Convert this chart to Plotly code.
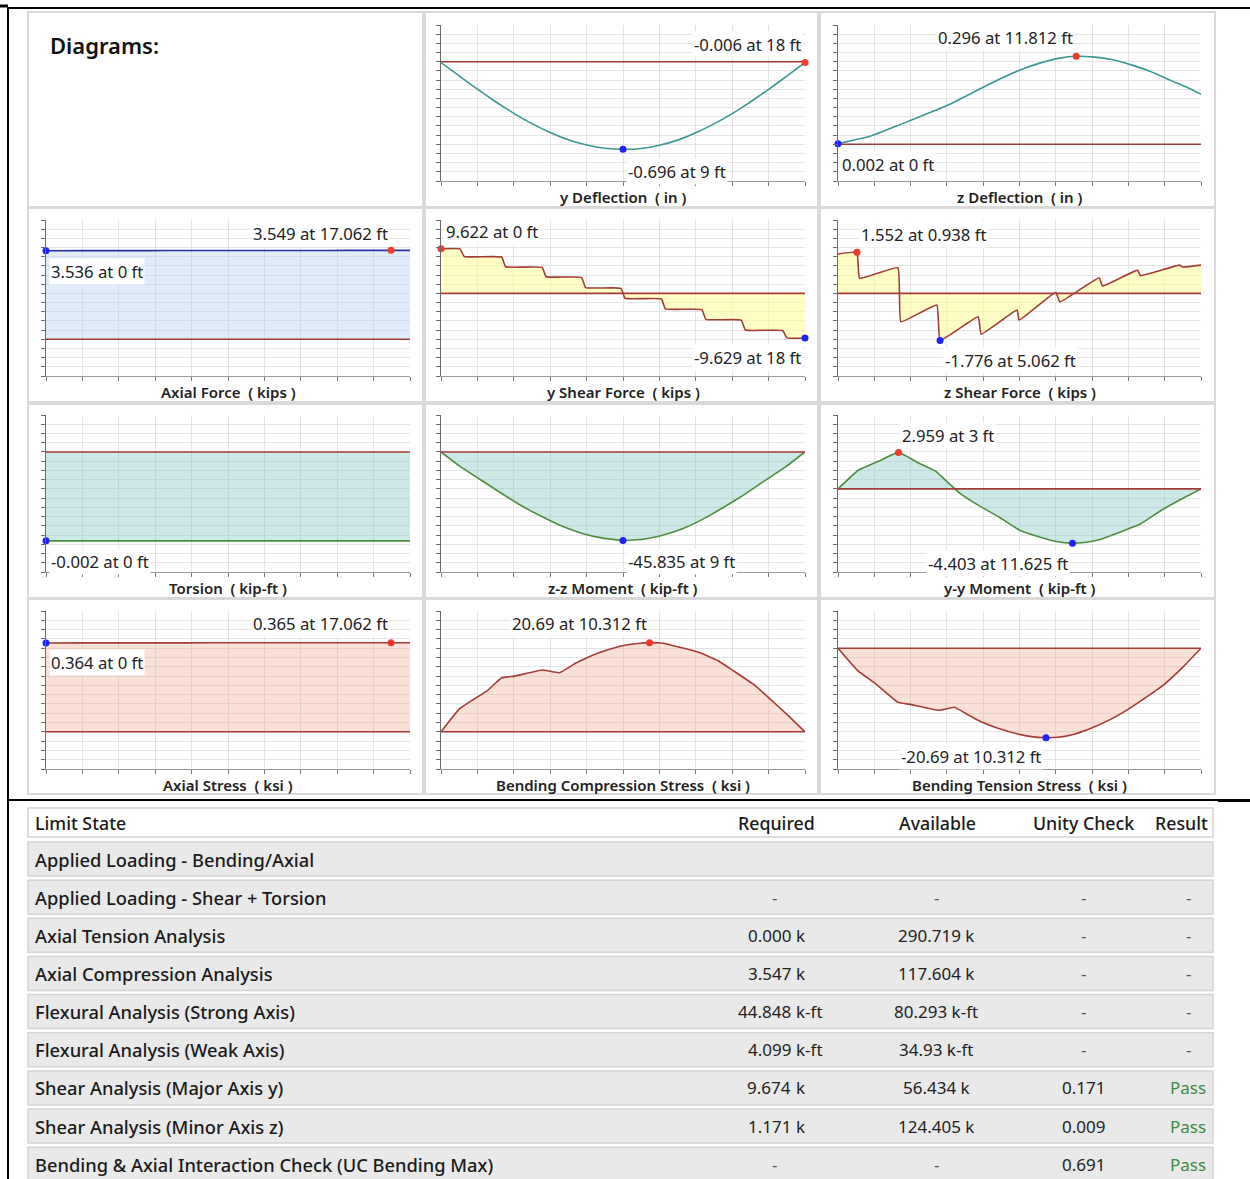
import plotly.graph_objects as go

W, H = 1250, 1179
FONT = "Noto Sans"

# ---------------- member diagram data (station in ft, value) ----------------
ydef_x = [0, 0.9, 1.8, 2.7, 3.6, 4.5, 5.4, 6.3, 7.2, 8.1, 9, 9.9, 10.8, 11.7, 12.6, 13.5, 14.4, 15.3, 16.2, 17.1, 18]
ydef_v = [-0.007, -0.113, -0.218, -0.318, -0.41, -0.492, -0.562, -0.62, -0.662, -0.688, -0.696, -0.689, -0.664,
          -0.623, -0.565, -0.494, -0.412, -0.32, -0.22, -0.114, -0.006]
ydef_max = (18, -0.006)
ydef_min = (9, -0.696)

zdef_x = [0, 1.6, 3.1, 4.5, 5.55, 7.0, 8.0, 9.0, 10.0, 11.0, 11.812, 12.6, 13.5, 14.5, 15.5, 16.5, 17.3, 18]
zdef_v = [0.002, 0.027, 0.067, 0.105, 0.135, 0.185, 0.219, 0.249, 0.273, 0.29, 0.296, 0.294, 0.286, 0.268, 0.245, 0.215, 0.192, 0.168]
zdef_max = (11.812, 0.296)
zdef_min = (0, 0.002)

axf_x = [0, 2, 4, 6, 8, 10, 12, 14, 16, 17.062, 18]
axf_v = [3.536, 3.538, 3.539, 3.541, 3.542, 3.544, 3.545, 3.546, 3.548, 3.549, 3.548]
axf_max = (17.062, 3.549)
axf_min = (0, 3.536)

ysh_x = [0, 0.938, 1.15, 3.0, 3.2, 5.0, 5.2, 6.95, 7.15, 8.9, 9.1, 10.9, 11.1, 12.9, 13.1, 14.85, 15.05, 16.9, 17.1, 18]
ysh_v = [9.622, 9.62, 7.95, 7.85, 5.75, 5.6, 3.6, 3.45, 1.25, 1.1, -1.05, -1.2, -3.35, -3.5, -5.6, -5.75, -7.9, -8.0,
         -9.6, -9.629]
ysh_max = (0, 9.622)
ysh_min = (18, -9.629)

zsh_x = [0, 0.938, 1.07, 2.97, 3.12, 4.9, 5.062, 6.95, 7.1, 8.88, 8.98, 10.8, 11.0, 12.95, 13.12, 14.86, 15.0, 16.93,
         17.09, 18]
zsh_v = [1.49, 1.552, 0.57, 0.97, -1.07, -0.44, -1.776, -0.88, -1.54, -0.63, -1.01, 0.04, -0.32, 0.59, 0.28, 0.88,
         0.67, 1.07, 1.0, 1.07]
zsh_max = (0.938, 1.552)
zsh_min = (5.062, -1.776)

tor_x = [0, 18]
tor_v = [-0.002, -0.002]
tor_min = (0, -0.002)

mzz_x = [0, 0.938, 1.9, 3.0, 4.0, 5.06, 6.0, 7.03, 8.0, 9, 10.0, 11.0, 12.0, 13.0, 14.0, 14.94, 16.0, 17.06, 18]
mzz_v = [0, -7.5, -14.0, -21.5, -28.0, -33.8, -38.5, -42.3, -44.6, -45.835, -45.2, -43.0, -39.5, -34.5, -28.5,
         -22.5, -15.0, -7.6, 0]
mzz_min = (9, -45.835)

myy_x = [0, 0.99, 2.0, 3, 4.0, 4.87, 5.06, 6.0, 7.03, 8.0, 9.0, 10.0, 10.82, 11.625, 12.2, 13.0, 14.36, 15.0, 16.0,
         17.06, 18]
myy_v = [0, 1.49, 2.24, 2.959, 2.1, 1.41, 1.12, -0.3, -1.4, -2.3, -3.35, -3.9, -4.27, -4.403, -4.35, -4.1, -3.26,
         -2.85, -1.77, -0.8, 0]
myy_max = (3, 2.959)
myy_min = (11.625, -4.403)

axs_x = [0, 2, 4, 6, 8, 10, 12, 14, 16, 17.062, 18]
axs_v = [0.364, 0.3641, 0.3643, 0.3644, 0.3645, 0.3646, 0.3647, 0.3648, 0.3649, 0.365, 0.3649]
axs_max = (17.062, 0.365)
axs_min = (0, 0.364)

bcs_x = [0, 0.91, 2.31, 3.0, 3.63, 5.03, 5.86, 6.65, 7.27, 8.1, 9.03, 9.74, 10.312, 10.9, 11.7, 12.71, 13.7, 14.53,
         15.52, 16.35, 17.17, 18]
bcs_v = [0, 5.33, 9.64, 12.54, 12.93, 14.34, 13.71, 15.9, 17.32, 18.8, 20.05, 20.5, 20.69, 20.6, 19.75, 18.5, 16.5,
         13.95, 10.8, 7.29, 3.76, 0]
bcs_max = (10.312, 20.69)

bts_x = [0, 0.99, 1.9, 2.97, 3.63, 4.99, 5.78, 6.44, 7.1, 7.93, 8.92, 9.58, 10.312, 10.9, 11.56, 12.55, 13.54, 14.36,
         15.36, 16.18, 17.09, 18]
bts_v = [0, -5.23, -8.35, -12.49, -13.04, -14.37, -13.66, -15.4, -17.0, -18.5, -19.83, -20.45, -20.69, -20.6, -20.07,
         -18.5, -16.4, -14.2, -11.1, -8.35, -4.45, 0]
bts_min = (10.312, -20.69)

# ---------------- capacity check table ----------------
limit_states = [
    "Applied Loading - Bending/Axial",
    "Applied Loading - Shear + Torsion",
    "Axial Tension Analysis",
    "Axial Compression Analysis",
    "Flexural Analysis (Strong Axis)",
    "Flexural Analysis (Weak Axis)",
    "Shear Analysis (Major Axis y)",
    "Shear Analysis (Minor Axis z)",
    "Bending & Axial Interaction Check (UC Bending Max)",
]
required = ["", "-", "0.000 k", "3.547 k", "44.848 k-ft", "4.099 k-ft", "9.674 k", "1.171 k", "-"]
available = ["", "-", "290.719 k", "117.604 k", "80.293 k-ft", "34.93 k-ft", "56.434 k", "124.405 k", "-"]
unity = ["", "-", "-", "-", "-", "-", "0.171", "0.009", "0.691"]
result = ["", "-", "-", "-", "-", "-", "Pass", "Pass", "Pass"]
headers = ["Limit State", "Required", "Available", "Unity Check", "Result"]

# ---------------- styling ----------------
BROWN = "#a33c36"
TEAL = "#3b9792"
NAVY = "#28329c"
GREEN = "#4f8d3f"
RED = "#f2382f"
BLUE = "#1e22f5"
F_BLUE = "rgba(180,210,240,0.42)"
F_YEL = "rgba(255,255,150,0.55)"
F_TEAL = "rgba(130,200,195,0.40)"
F_PEACH = "rgba(240,170,140,0.35)"

COLS = [(46, 410), (441, 805), (838, 1201)]
ROWS = [(25, 181), (220, 376), (415, 572), (611, 769)]
BOX_COLS = [(28, 423), (425, 818), (820, 1215)]
BOX_ROWS = [(12, 207), (208, 402), (404, 598), (599, 794)]
NB = "\u00a0"


def fx(x):
    return x / W


def fy(y):
    return 1 - y / H


def fmt(v):
    return f"{v:g}"


def lab(pt):
    return f"{fmt(pt[1])} at {fmt(pt[0])} ft"


def unit_title(name, unit):
    return f"{name}{NB} ( {unit} )"


# row, col, x, values, zero-gridline index from top, grid step, line, fill, title, markers, labels
panels = [
    dict(r=0, c=1, x=ydef_x, v=ydef_v, k=4, d=0.0729, line=TEAL, fill=None, title=unit_title("y Deflection", "in"),
         mx=ydef_max, mn=ydef_min, labels=[(lab(ydef_max), 803, 45, "right"), (lab(ydef_min), 626, 171, "left")]),
    dict(r=0, c=2, x=zdef_x, v=zdef_v, k=13, d=0.03087, line=TEAL, fill=None, title=unit_title("z Deflection", "in"),
         mx=zdef_max, mn=zdef_min, labels=[(lab(zdef_max), 936, 38, "left"), (lab(zdef_min), 840, 164, "left")]),
    dict(r=1, c=0, x=axf_x, v=axf_v, k=13, d=0.3662, line=NAVY, fill=F_BLUE, title=unit_title("Axial Force", "kips"),
         mx=axf_max, mn=axf_min, labels=[(lab(axf_max), 251, 233, "left"), (lab(axf_min), 49, 271, "left")]),
    dict(r=1, c=1, x=ysh_x, v=ysh_v, k=8, d=1.98, line=BROWN, fill=F_YEL, title=unit_title("y Shear Force", "kips"),
         mx=ysh_max, mn=ysh_min, labels=[(lab(ysh_max), 444, 231, "left"), (lab(ysh_min), 803, 358, "right")]),
    dict(r=1, c=2, x=zsh_x, v=zsh_v, k=8, d=0.347, line=BROWN, fill=F_YEL, title=unit_title("z Shear Force", "kips"),
         mx=zsh_max, mn=zsh_min, labels=[(lab(zsh_max), 859, 234, "left"), (lab(zsh_min), 943, 360, "left")]),
    dict(r=2, c=0, x=tor_x, v=tor_v, k=4, d=0.0002077, line=GREEN, fill=F_TEAL, title=unit_title("Torsion", "kip-ft"),
         mx=None, mn=tor_min, labels=[(lab(tor_min), 49, 562, "left")]),
    dict(r=2, c=1, x=mzz_x, v=mzz_v, k=4, d=4.78, line=GREEN, fill=F_TEAL, title=unit_title("z-z Moment", "kip-ft"),
         mx=None, mn=mzz_min, labels=[(lab(mzz_min), 626, 562, "left")]),
    dict(r=2, c=2, x=myy_x, v=myy_v, k=8, d=0.749, line=GREEN, fill=F_TEAL, title=unit_title("y-y Moment", "kip-ft"),
         mx=myy_max, mn=myy_min, labels=[(lab(myy_max), 900, 435, "left"), (lab(myy_min), 926, 563, "left")]),
    dict(r=3, c=0, x=axs_x, v=axs_v, k=13, d=0.03806, line=BROWN, fill=F_PEACH, title=unit_title("Axial Stress", "ksi"),
         mx=axs_max, mn=axs_min, labels=[(lab(axs_max), 251, 623, "left"), (lab(axs_min), 49, 662, "left")]),
    dict(r=3, c=1, x=bcs_x, v=bcs_v, k=13, d=2.157, line=BROWN, fill=F_PEACH,
         title=unit_title("Bending Compression Stress", "ksi"),
         mx=bcs_max, mn=None, labels=[(lab(bcs_max), 510, 623, "left")]),
    dict(r=3, c=2, x=bts_x, v=bts_v, k=4, d=2.148, line=BROWN, fill=F_PEACH,
         title=unit_title("Bending Tension Stress", "ksi"),
         mx=None, mn=bts_min, labels=[(lab(bts_min), 899, 756, "left")]),
]

fig = go.Figure()
layout = dict(
    width=W, height=H, margin=dict(l=0, r=0, t=0, b=0),
    paper_bgcolor="white", plot_bgcolor="rgba(0,0,0,0)", showlegend=False,
    font=dict(family=FONT, color="#222"),
)
shapes = []
annotations = []


def note(text, x, y, xanchor="left", size=16, color="#222", weight="normal", bg=None):
    a = dict(text=text, x=fx(x), y=fy(y), xref="paper", yref="paper", xanchor=xanchor, yanchor="middle",
             showarrow=False, font=dict(family=FONT, size=size, color=color, weight=weight))
    if bg:
        a.update(bgcolor=bg, borderpad=1)
    return a


def line(x0, y0, x1, y1, color="black", width=2):
    return dict(type="line", xref="paper", yref="paper", x0=fx(x0), y0=fy(y0), x1=fx(x1), y1=fy(y1),
                line=dict(color=color, width=width), layer="above")


# panel frames
for r, (t, b) in enumerate(BOX_ROWS):
    for c, (l, rr) in enumerate(BOX_COLS):
        shapes.append(dict(type="rect", xref="paper", yref="paper", x0=fx(l), x1=fx(rr), y0=fy(b), y1=fy(t),
                           line=dict(color="#d9d9d9", width=2), fillcolor="rgba(0,0,0,0)", layer="below"))

annotations.append(note("Diagrams:", 48, 45, size=22, color="#111", weight=600))

for i, p in enumerate(panels, start=1):
    sfx = "" if i == 1 else str(i)
    xl, xr = COLS[p["c"]]
    yt, yb = ROWS[p["r"]]
    k, d = p["k"], p["d"]
    ymin, ymax = -(17 - k) * d, k * d
    layout["xaxis" + sfx] = dict(
        domain=[fx(xl), fx(xr)], range=[0, 18], anchor="y" + sfx,
        tickvals=[j * 1.8 for j in range(11)], showticklabels=False, ticks="outside", ticklen=4,
        tickcolor="#7a7a7a", showgrid=True, gridcolor="#e4e4e4", gridwidth=1,
        showline=True, linecolor="#9a9a9a", linewidth=1, zeroline=False, fixedrange=True)
    layout["yaxis" + sfx] = dict(
        domain=[fy(yb), fy(yt)], range=[ymin, ymax], anchor="x" + sfx,
        tickvals=[ymin + j * d for j in range(18)], showticklabels=False, ticks="outside", ticklen=4,
        tickcolor="#6a6a6a", showgrid=True, gridcolor="#e4e4e4", gridwidth=1,
        showline=True, linecolor="#6a6a6a", linewidth=1, zeroline=False, fixedrange=True)
    ax = dict(xaxis="x" + sfx, yaxis="y" + sfx)

    fig.add_trace(go.Scatter(x=p["x"], y=p["v"], mode="lines",
                             line=dict(color=p["line"], width=1.6, shape="spline", smoothing=0.3),
                             fill="tozeroy" if p["fill"] else None, fillcolor=p["fill"], hoverinfo="skip", **ax))
    fig.add_trace(go.Scatter(x=[0, 18], y=[0, 0], mode="lines", line=dict(color=BROWN, width=1.6),
                             hoverinfo="skip", **ax))
    if p["mx"]:
        fig.add_trace(go.Scatter(x=[p["mx"][0]], y=[p["mx"][1]], mode="markers",
                                 marker=dict(color=RED, size=7), cliponaxis=False, **ax))
    if p["mn"]:
        fig.add_trace(go.Scatter(x=[p["mn"][0]], y=[p["mn"][1]], mode="markers",
                                 marker=dict(color=BLUE, size=7), cliponaxis=False, **ax))

    for text, lx, ly, anchor in p["labels"]:
        annotations.append(note(text, lx, ly, xanchor=anchor, size=16.7, color="#222", bg="white"))

    annotations.append(note(p["title"], (xl + xr) / 2, yb + 16, xanchor="center", size=15, color="#222",
                            weight=600))

# table
TL, TR = 28, 1213
shapes.append(dict(type="rect", xref="paper", yref="paper", x0=fx(TL), x1=fx(TR), y0=fy(837), y1=fy(808),
                   line=dict(color="#d4d4d4", width=1.5), fillcolor="white", layer="below"))
hdr_x = [(33, "left"), (776, "center"), (937, "center"), (1083, "center"), (1181, "center")]
for h, (hx, anc) in zip(headers, hdr_x):
    annotations.append(note(h, hx, 823, xanchor=anc, size=17.8, color="#1a1a1a", weight=500))

pitch = 38.15
for i, name in enumerate(limit_states):
    cy = 859 + i * pitch
    shapes.append(dict(type="rect", xref="paper", yref="paper", x0=fx(TL), x1=fx(TR), y0=fy(cy + 17),
                       y1=fy(cy - 17), line=dict(color="#d4d4d4", width=1.5), fillcolor="#e9e9e9",
                       layer="below"))
    annotations.append(note(name, 33, cy, size=18.3, color="#1a1a1a", weight=500))
    req = required[i]
    if req == "-":
        annotations.append(note("-", 774, cy, xanchor="center", size=17, color="#555"))
    elif req:
        num, unit = req.split(" ")
        annotations.append(note(num, 793, cy, xanchor="right", size=17, color="#222"))
        annotations.append(note(unit, 794, cy, xanchor="left", size=17, color="#222"))
    if available[i]:
        annotations.append(note(available[i], 936, cy, xanchor="center", size=17,
                                color="#555" if available[i] == "-" else "#222"))
    if unity[i]:
        annotations.append(note(unity[i], 1083, cy, xanchor="center", size=17,
                                color="#555" if unity[i] == "-" else "#222"))
    if result[i]:
        annotations.append(note(result[i], 1188, cy, xanchor="center", size=17,
                                color="#555" if result[i] == "-" else "#3d8a3d"))

# outer frame lines
shapes += [
    line(8, 8, 1250, 8),
    line(0, 6, 8, 6, width=3),
    line(8, 7, 8, 1179),
    line(8, 800, 1250, 800),
    line(1218, 800.5, 1250, 800.5, width=3),
]

layout["shapes"] = shapes
layout["annotations"] = annotations
fig.update_layout(**layout)
fig.write_html("out.html")
